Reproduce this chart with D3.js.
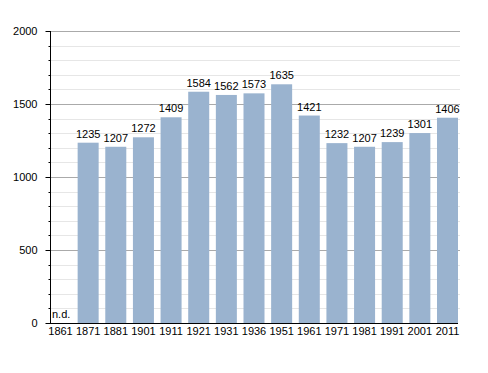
<!DOCTYPE html>
<html>
<head>
<meta charset="utf-8">
<script src="https://cdn.jsdelivr.net/npm/d3@7"></script>
<style>
  body { margin: 0; background: #fff; }
  svg text { font-family: "Liberation Sans", Arial, sans-serif; font-size: 11px; fill: #000; }
</style>
</head>
<body>
<script>
// census years and inhabitants (1861 has no data)
var years = ["1861", "1871", "1881", "1901", "1911", "1921", "1931", "1936", "1951", "1961", "1971", "1981", "1991", "2001", "2011"];
var population = [null, 1235, 1207, 1272, 1409, 1584, 1562, 1573, 1635, 1421, 1232, 1207, 1239, 1301, 1406];
var yTicks = [0, 500, 1000, 1500, 2000];

var width = 488, height = 373;
var plotLeft = 50, plotRight = 458, plotTop = 31, plotBottom = 323;

var svg = d3.select("body").append("svg")
  .attr("width", width)
  .attr("height", height);

var x = d3.scaleBand()
  .domain(years)
  .range([plotLeft, plotRight])
  .paddingInner(0.24)
  .paddingOuter(0);

var y = d3.scaleLinear()
  .domain([0, 2000])
  .range([plotBottom, plotTop]);

var minor = d3.range(0, 2001, 100).filter(function(d) { return d % 500 != 0; });

// minor gridlines
svg.selectAll(".minor")
  .data(minor)
  .enter().append("line")
  .attr("x1", plotLeft).attr("x2", 460)
  .attr("y1", function(d) { return Math.round(y(d)) + 0.5; })
  .attr("y2", function(d) { return Math.round(y(d)) + 0.5; })
  .attr("stroke", "#e6e6e6");

// major gridlines
svg.selectAll(".major")
  .data(yTicks.filter(function(d) { return d > 0; }))
  .enter().append("line")
  .attr("x1", plotLeft).attr("x2", 460)
  .attr("y1", function(d) { return Math.round(y(d)) + 0.5; })
  .attr("y2", function(d) { return Math.round(y(d)) + 0.5; })
  .attr("stroke", "#aaaaaa");

// bars
svg.selectAll(".bar")
  .data(years.filter(function(d, i) { return population[i] != null; }))
  .enter().append("rect")
  .attr("x", function(d) { return x(d); })
  .attr("y", function(d) { return y(population[years.indexOf(d)]); })
  .attr("width", x.bandwidth())
  .attr("height", function(d) { return plotBottom - y(population[years.indexOf(d)]); })
  .attr("fill", "#9ab3cf");

// value labels
svg.selectAll(".val")
  .data(years)
  .enter().append("text")
  .attr("x", function(d, i) { return population[i] == null ? plotLeft + 2 : x(d) + x.bandwidth() / 2; })
  .attr("y", function(d, i) { return population[i] == null ? plotBottom - 5 : y(population[i]) - 5; })
  .attr("text-anchor", function(d, i) { return population[i] == null ? "start" : "middle"; })
  .text(function(d, i) { return population[i] == null ? "n.d." : population[i]; });

// y axis
var yAxis = d3.axisLeft(y).tickValues(yTicks).tickFormat(d3.format("d")).tickSize(5).tickPadding(8);
var gy = svg.append("g")
  .attr("transform", "translate(" + (plotLeft + 0.5) + ",0)")
  .call(yAxis);
gy.select(".domain").attr("d", "M0," + plotTop + "V" + plotBottom).attr("stroke", "#000");
gy.selectAll(".tick text").attr("font-size", null).attr("font-family", null);

gy.selectAll(".minortick")
  .data(minor)
  .enter().append("line")
  .attr("x1", -2).attr("x2", 0)
  .attr("y1", function(d) { return Math.round(y(d)) + 0.5; })
  .attr("y2", function(d) { return Math.round(y(d)) + 0.5; })
  .attr("stroke", "#000");

// x axis
var xAxis = d3.axisBottom(x).tickSize(0).tickPadding(4);
var gx = svg.append("g")
  .attr("transform", "translate(0," + (plotBottom + 0.5) + ")")
  .call(xAxis);
gx.select(".domain").attr("d", "M" + plotLeft + ",0H" + plotRight).attr("stroke", "#000");
gx.selectAll(".tick text").attr("font-size", null).attr("font-family", null);
</script>
</body>
</html>
